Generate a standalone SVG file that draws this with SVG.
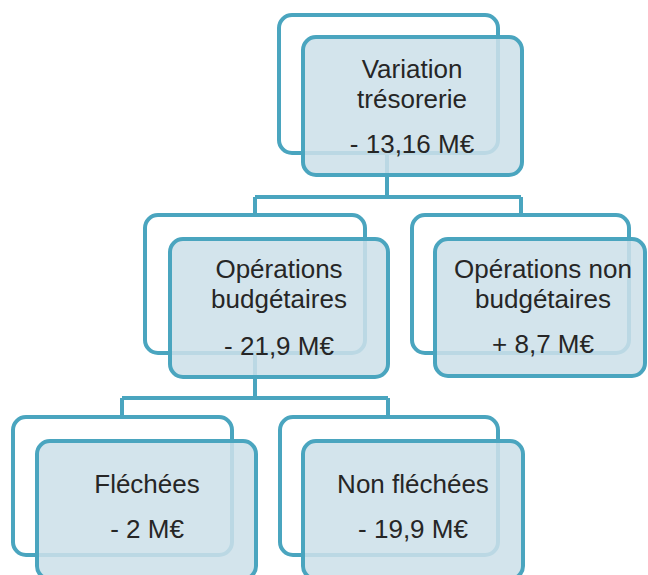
<svg xmlns="http://www.w3.org/2000/svg" width="648" height="575" viewBox="0 0 648 575">
  <style>
    .back { fill: #ffffff; stroke: #4aa5bf; stroke-width: 4; }
    .front { fill: #cde0e9; fill-opacity: 0.87; stroke: #4aa5bf; stroke-width: 4; }
    .link { fill: none; stroke: #4aa5bf; stroke-width: 4; }
    text { font-family: "Liberation Sans", "Open Sans", sans-serif; font-size: 26px; fill: #262626; text-anchor: middle; }
  </style>
  <rect width="648" height="575" fill="#ffffff"/>

  <!-- tree connectors -->
  <g id="connectors">
    <path class="link" d="M387,153 V197 M255,197 H521 M255,197 V215 M521,197 V215"/>
    <path class="link" d="M255,353 V398 M122,398 H388 M122,398 V417 M388,398 V417"/>
  </g>

  <g id="variation-tresorerie">
    <rect class="back" x="279" y="15" width="219" height="138" rx="13"/>
    <rect class="front" x="303" y="37" width="219" height="138" rx="13"/>
    <text x="412" y="78">Variation</text>
    <text x="412" y="108">trésorerie</text>
    <text x="412" y="153">- 13,16 M€</text>
  </g>

  <g id="operations-budgetaires">
    <rect class="back" x="145" y="215" width="220" height="138" rx="13"/>
    <rect class="front" x="170" y="239" width="218" height="138" rx="13"/>
    <text x="279" y="278">Opérations</text>
    <text x="279" y="308">budgétaires</text>
    <text x="279" y="355">- 21,9 M€</text>
  </g>

  <g id="operations-non-budgetaires">
    <rect class="back" x="412" y="215" width="217" height="138" rx="13"/>
    <rect class="front" x="435" y="239" width="210" height="137" rx="13"/>
    <text x="543" y="278">Opérations non</text>
    <text x="543" y="308">budgétaires</text>
    <text x="543" y="353">+ 8,7 M€</text>
  </g>

  <g id="flechees">
    <rect class="back" x="13" y="417" width="219" height="138" rx="13"/>
    <rect class="front" x="37" y="441" width="219" height="138" rx="13"/>
    <text x="147" y="493">Fléchées</text>
    <text x="147" y="538">- 2 M€</text>
  </g>

  <g id="non-flechees">
    <rect class="back" x="280" y="417" width="218" height="138" rx="13"/>
    <rect class="front" x="303" y="441" width="220" height="138" rx="13"/>
    <text x="413" y="493">Non fléchées</text>
    <text x="413" y="538">- 19,9 M€</text>
  </g>
</svg>
